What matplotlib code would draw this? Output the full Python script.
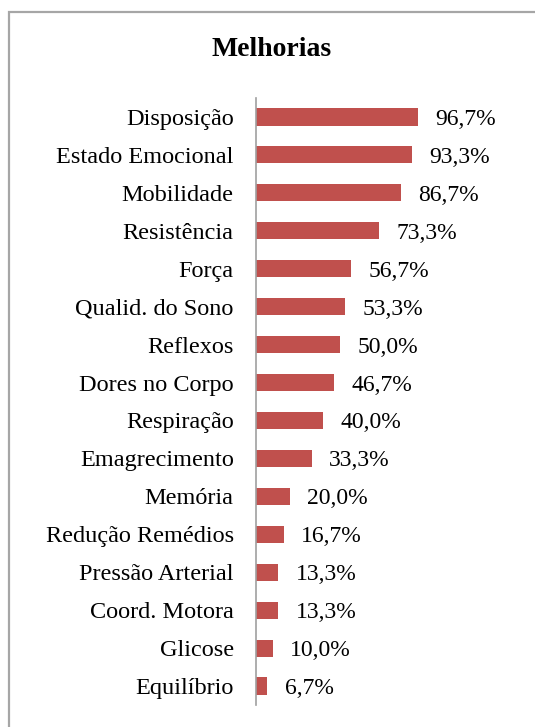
import matplotlib
matplotlib.use("Agg")
import matplotlib.pyplot as plt
from matplotlib.patches import Rectangle

categories = ["Disposição", "Estado Emocional", "Mobilidade", "Resistência", "Força",
              "Qualid. do Sono", "Reflexos", "Dores no Corpo", "Respiração", "Emagrecimento",
              "Memória", "Redução Remédios", "Pressão Arterial", "Coord. Motora", "Glicose",
              "Equilíbrio"]
values = [96.7, 93.3, 86.7, 73.3, 56.7, 53.3, 50.0, 46.7, 40.0, 33.3, 20.0, 16.7, 13.3, 13.3, 10.0, 6.7]
title = "Melhorias"

plt.rcParams['font.family'] = ['Liberation Serif', 'DejaVu Serif']

W, H = 535, 727
fig = plt.figure(figsize=(W / 100, H / 100), dpi=100)
fig.patch.set_facecolor("white")

# chart border (extends beyond the right/bottom edge)
fig.add_artist(Rectangle((9 / W, -0.1), 1.2, 1.1 - 12 / H, transform=fig.transFigure,
                         fill=False, edgecolor="#a6a6a6", linewidth=1.6))

ax = fig.add_axes([256 / W, 1 - 705 / H, (423.5 - 256) / W, (705 - 98) / H])
ypos = list(range(len(categories)))
ax.barh(ypos, values, height=0.45, color="#C0504D")
ax.set_xlim(0, 100)
ax.set_ylim(len(categories) - 0.5, -0.5)
ax.set_yticks(ypos)
ax.set_yticklabels(categories, fontsize=17.5)
ax.tick_params(axis="y", length=0, pad=16)
ax.set_xticks([])
for s in ["top", "right", "bottom"]:
    ax.spines[s].set_visible(False)
ax.spines["left"].set_color("#a0a0a0")
ax.spines["left"].set_linewidth(1.2)

for y, v in zip(ypos, values):
    ax.annotate(f"{v:.1f}%".replace(".", ","), xy=(v, y), xytext=(12.5, 0),
                textcoords="offset points", va="center_baseline", ha="left", fontsize=17)

fig.text(272 / W, 1 - 50 / H, title, ha="center", va="center", fontsize=20, fontweight="bold")

fig.savefig("out.png", dpi=100)
